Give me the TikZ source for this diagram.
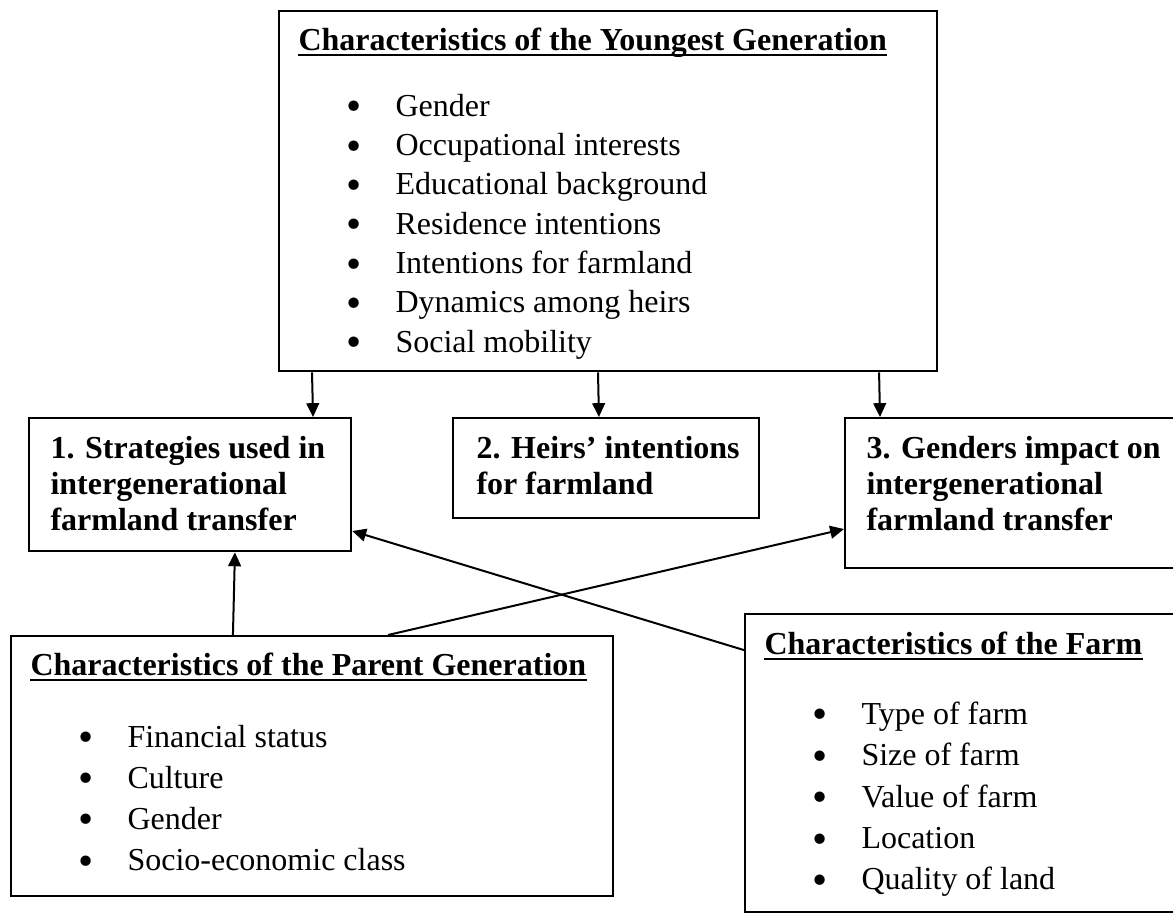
\documentclass[tikz,border=0pt]{standalone}
\usepackage{fontspec}
\usepackage{graphicx}
\setmainfont{Liberation Serif}
\usetikzlibrary{positioning, arrows.meta}
\newcommand{\bigdot}{\leavevmode\kern-0.75pt\raisebox{-0.15em}{\scalebox{1.35}{•}}}% Word-size bullet

\begin{document}
\begin{tikzpicture}[
x = 0.375pt, y = -0.375pt,% one unit = one pixel of the sketch
   box/.style = {draw, line width=0.85pt, inner sep=0pt, anchor=north west},
  head/.style = {inner sep=0pt, anchor=base west,
                 font=\fontsize{12}{13.5}\selectfont\bfseries},
 items/.style = {inner sep=0pt, anchor=base west},
    ul/.style = {line width=0.9pt},
 arrow/.style = {line width=0.75pt, -{Triangle[length=5.2pt,width=4.8pt]}}
                        ]
\useasboundingbox (0,0) rectangle (1173,913);
% boxes
\node (young)  [box, minimum width=246.75pt, minimum height=135pt]   at (278,10)  {};
\node (s1)     [box, minimum width=120.75pt, minimum height=49.9pt]  at (28,417)  {};
\node (s2)     [box, minimum width=114.75pt, minimum height=37.5pt]  at (452,417) {};
\node (s3)     [box, minimum width=129.4pt,  minimum height=56.25pt] at (844,417) {};
\node (parent) [box, minimum width=225.75pt, minimum height=97.5pt]  at (10,635)  {};
\node (farm)   [box, minimum width=166.9pt,  minimum height=111.75pt] at (744,613) {};
% titles
\node (youngT)  [head] at (298,50)  {Characteristics of the Youngest Generation};
\node (parentT) [head] at (30,675)  {Characteristics of the Parent Generation};
\node (farmT)   [head] at (764,654) {Characteristics of the Farm};
\foreach \t in {youngT,parentT,farmT}
  \draw [ul] ([yshift=-1.9pt]\t.base west) -- ([yshift=-1.9pt]\t.base east);
% bullet lists
\node (youngL) [items, font=\fontsize{12}{14.75}\selectfont] at (347.5,116)
                {\begin{tabular}[t]{@{}p{17.8pt}@{}l@{}}% bullet, then text
                  \bigdot & Gender \\
                  \bigdot & Occupational interests \\
                  \bigdot & Educational background \\
                  \bigdot & Residence intentions \\
                  \bigdot & Intentions for farmland \\
                  \bigdot & Dynamics among heirs \\
                  \bigdot & Social mobility
                 \end{tabular}};
\node (parentL) [items, font=\fontsize{12}{15.4}\selectfont] at (79.5,747)
                {\begin{tabular}[t]{@{}p{17.8pt}@{}l@{}}
                  \bigdot & Financial status \\
                  \bigdot & Culture \\
                  \bigdot & Gender \\
                  \bigdot & Socio-economic class
                 \end{tabular}};
\node (farmL) [items, font=\fontsize{12}{15.56}\selectfont] at (813.5,724)
                {\begin{tabular}[t]{@{}p{17.8pt}@{}l@{}}
                  \bigdot & Type of farm \\
                  \bigdot & Size of farm \\
                  \bigdot & Value of farm \\
                  \bigdot & Location \\
                  \bigdot & Quality of land
                 \end{tabular}};
% outcome texts
\node (s1T) [head] at (50,458)  {\begin{tabular}[t]{@{}l@{}}
                                   1. Strategies used in \\
                                   intergenerational \\
                                   farmland transfer
                                  \end{tabular}};
\node (s2T) [head] at (476,458) {\begin{tabular}[t]{@{}l@{}}
                                   2. Heirs’ intentions \\
                                   for farmland
                                  \end{tabular}};
\node (s3T) [head] at (866,458) {\begin{tabular}[t]{@{}l@{}}
                                   3. Genders impact on \\
                                   intergenerational \\
                                   farmland transfer
                                  \end{tabular}};
% connectors
\draw [arrow] ([xshift=12.75pt]young.south west)  -- ([xshift=106.9pt]s1.north west);
\draw [arrow] ([xshift=120pt]young.south west)    -- ([xshift=55.1pt]s2.north west);
\draw [arrow] ([xshift=225.4pt]young.south west)  -- ([xshift=13.5pt]s3.north west);
\draw [arrow] ([xshift=83.6pt]parent.north west)  -- ([xshift=77.6pt]s1.south west);
\draw [arrow] ([xshift=141.75pt]parent.north west) -- ([yshift=-42pt]s3.north west);
\draw [arrow] ([yshift=-13.9pt]farm.north west)   -- ([yshift=-42.75pt]s1.north east);
\end{tikzpicture}
\end{document}
